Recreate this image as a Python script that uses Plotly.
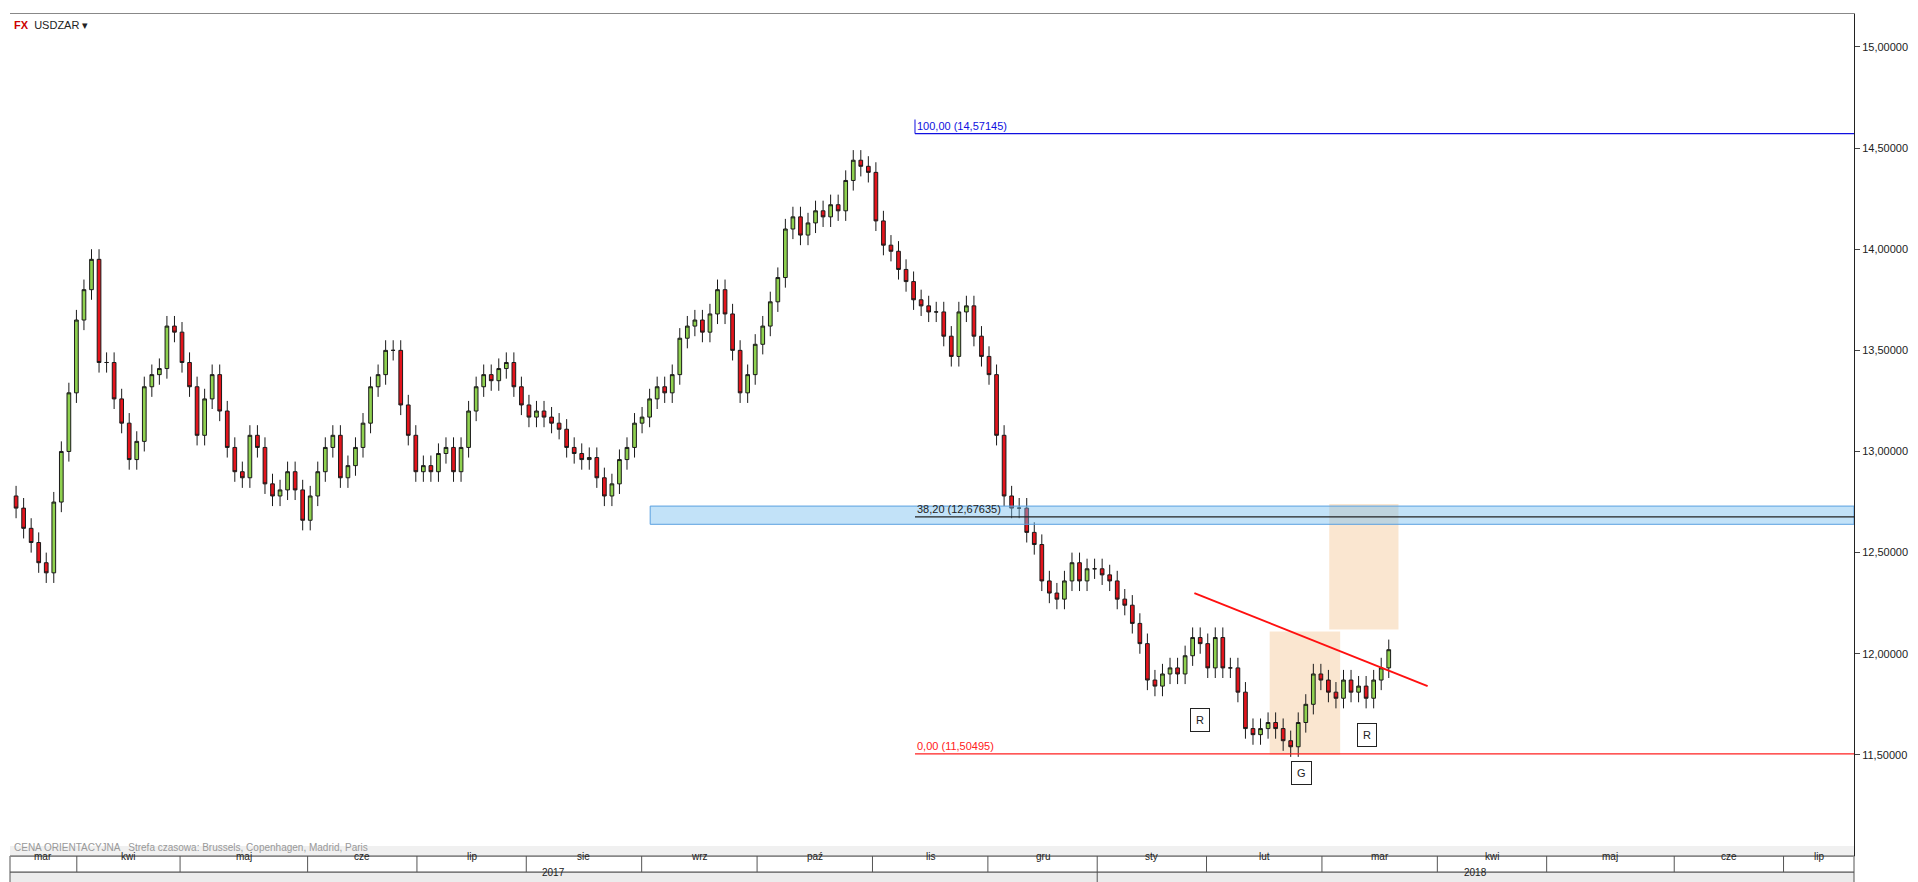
import plotly.graph_objects as go

# USDZAR daily closes, mid-March 2017 .. mid-March 2018
close = [12.72, 12.62, 12.55, 12.45, 12.40, 12.75, 13.00, 13.29,
         13.65, 13.80, 13.95, 13.44, 13.44, 13.26, 13.14, 12.96, 13.05, 13.32, 13.38, 13.41,
         13.62, 13.59, 13.44, 13.32, 13.08, 13.26, 13.38, 13.20, 13.02, 12.90,
         12.87, 13.08, 13.02, 12.84, 12.78, 12.81, 12.90, 12.81, 12.66, 12.78,
         12.90, 13.02, 13.08, 12.87, 12.93, 13.02, 13.14, 13.32, 13.38, 13.50,
         13.50, 13.23, 13.08, 12.90, 12.93, 12.90, 12.99, 13.02, 12.90, 13.02,
         13.20, 13.32, 13.38, 13.35, 13.41, 13.44, 13.32, 13.23, 13.17, 13.20,
         13.17, 13.14, 13.11, 13.02, 12.99, 12.96, 12.97, 12.87, 12.78, 12.84,
         12.96, 13.02, 13.14, 13.17, 13.26, 13.32, 13.29, 13.38, 13.56, 13.62,
         13.65, 13.59, 13.68, 13.80, 13.68, 13.50, 13.29, 13.38, 13.53, 13.62,
         13.74, 13.86, 14.10, 14.16, 14.07, 14.13, 14.19, 14.16, 14.22, 14.19,
         14.34, 14.44, 14.41, 14.38, 14.14, 14.02, 13.99, 13.90, 13.84, 13.75,
         13.72, 13.69, 13.69, 13.57, 13.47, 13.69, 13.72, 13.57, 13.47, 13.38,
         13.08, 12.78, 12.72, 12.72, 12.60, 12.54, 12.36, 12.30, 12.27, 12.36,
         12.45, 12.36, 12.42, 12.42, 12.39, 12.36, 12.27, 12.24, 12.15, 12.05,
         11.87, 11.84, 11.90, 11.93, 11.90, 11.99, 12.08, 12.05, 11.93, 12.08,
         11.93, 11.93, 11.81, 11.63, 11.60, 11.63, 11.66, 11.63, 11.57, 11.54,
         11.66, 11.75, 11.90, 11.87, 11.81, 11.78, 11.87, 11.81, 11.84, 11.78,
         11.87, 11.93, 12.02]
first_open = 12.78
wick = 0.05

months = ["mar", "kwi", "maj", "cze", "lip", "sie", "wrz", "paź", "lis",
          "gru", "sty", "lut", "mar", "kwi", "maj", "cze", "lip"]
month_px = [0, 55, 140, 245, 335, 425, 520, 615, 710, 805, 895, 985, 1080,
            1175, 1265, 1370, 1460, 1518]
year_split_px = 895

fib_top, fib_382, fib_0 = 14.57145, 12.67635, 11.50495

n = len(close)
scale = (1135 - 5) / (n - 1)


def ix(px):
    return (px - 5) / scale


opens = [first_open] + close[:-1]
high = [max(o, c) + wick for o, c in zip(opens, close)]
low = [min(o, c) - wick for o, c in zip(opens, close)]
x = list(range(n))

fig = go.Figure(go.Candlestick(
    x=x, open=opens, high=high, low=low, close=close,
    increasing=dict(fillcolor="#8fd14f", line=dict(color="#1a1a1a", width=1)),
    decreasing=dict(fillcolor="#e3141c", line=dict(color="#1a1a1a", width=1)),
    whiskerwidth=0, showlegend=False, hoverinfo="skip"))

xr = [ix(0), ix(1518)]
shapes = []
# grey strip at bottom of the plot
shapes.append(dict(type="rect", xref="paper", yref="paper", x0=0, x1=1, y0=0, y1=0.012,
                   fillcolor="#f0f0f0", line=dict(width=0), layer="below"))
# fib band + lines
shapes.append(dict(type="rect", x0=ix(527), x1=xr[1], y0=12.64, y1=12.73,
                   fillcolor="rgba(120,190,240,0.45)", line=dict(color="#5aa0e0", width=1)))
for y, c, s in [(fib_top, "#1010e0", 745), (fib_382, "#222222", 745), (fib_0, "#ff2020", 745)]:
    shapes.append(dict(type="line", x0=ix(s), x1=xr[1], y0=y, y1=y, line=dict(color=c, width=1.2)))
shapes.append(dict(type="line", x0=ix(745), x1=ix(745), y0=fib_top, y1=fib_top + 0.07,
                   line=dict(color="#1010e0", width=1)))
# orange zones
shapes.append(dict(type="rect", x0=ix(1037), x1=ix(1095), y0=11.50, y1=12.11,
                   fillcolor="rgba(245,200,150,0.45)", line=dict(width=0), layer="below"))
shapes.append(dict(type="rect", x0=ix(1086), x1=ix(1143), y0=12.12, y1=12.74,
                   fillcolor="rgba(245,200,150,0.45)", line=dict(width=0), layer="below"))
# trendline
shapes.append(dict(type="line", x0=ix(975), x1=ix(1167), y0=12.30, y1=11.84,
                   line=dict(color="#ff1010", width=2)))
# month / year rows
shapes.append(dict(type="rect", xref="paper", yref="paper", x0=0, x1=1, y0=-0.037, y1=-0.019,
                   fillcolor="#ececec", line=dict(color="#555", width=1), layer="below"))
shapes.append(dict(type="rect", xref="paper", yref="paper", x0=0, x1=1, y0=-0.019, y1=0,
                   fillcolor="white", line=dict(color="#555", width=1), layer="below"))
annotations = []
for i, m in enumerate(months):
    a, b = month_px[i], month_px[i + 1]
    if i > 0:
        shapes.append(dict(type="line", x0=ix(a), x1=ix(a), yref="paper", y0=-0.019, y1=0,
                           line=dict(color="#555", width=1)))
    annotations.append(dict(x=ix((a + b) / 2), y=-0.0095, yref="paper", text=m, showarrow=False,
                            font=dict(size=10, color="#222")))
shapes.append(dict(type="line", x0=ix(year_split_px), x1=ix(year_split_px), yref="paper",
                   y0=-0.037, y1=-0.019, line=dict(color="#555", width=1)))
annotations.append(dict(x=ix((0 + year_split_px) / 2), y=-0.028, yref="paper", text="2017",
                        showarrow=False, font=dict(size=10, color="#222")))
annotations.append(dict(x=ix((year_split_px + 1518) / 2), y=-0.028, yref="paper", text="2018",
                        showarrow=False, font=dict(size=10, color="#222")))

for y, c, t in [(fib_top, "#1010e0", "100,00 (14,57145)"), (fib_382, "#222222", "38,20 (12,67635)"),
                (fib_0, "#ff2020", "0,00 (11,50495)")]:
    annotations.append(dict(x=ix(745), y=y, text=t, showarrow=False, xanchor="left", yanchor="bottom",
                            font=dict(size=11, color=c)))
for px, y, t in [(980, 11.67, "R"), (1063, 11.41, "G"), (1117, 11.60, "R")]:
    annotations.append(dict(x=ix(px), y=y, text=t, showarrow=False, bgcolor="white",
                            bordercolor="#222", borderwidth=1, borderpad=5,
                            font=dict(size=11, color="#222")))
annotations.append(dict(x=0.001, y=0.997, xref="paper", yref="paper", xanchor="left", yanchor="top",
                        text="<b style='color:#c00'>FX</b>  USDZAR ▾",
                        showarrow=False, font=dict(size=11, color="#222")))
annotations.append(dict(x=0.001, y=0.001, xref="paper", yref="paper", xanchor="left", yanchor="bottom",
                        text="CENA ORIENTACYJNA   Strefa czasowa: Brussels, Copenhagen, Madrid, Paris",
                        showarrow=False, font=dict(size=10, color="#999")))

yt = [11.5, 12.0, 12.5, 13.0, 13.5, 14.0, 14.5, 15.0]
fig.update_layout(
    width=1918, height=882, paper_bgcolor="white", plot_bgcolor="white",
    margin=dict(l=2, r=72, t=6, b=34),
    font=dict(family="Liberation Sans"),
    shapes=shapes, annotations=annotations,
    xaxis=dict(range=xr, showticklabels=False, showgrid=False, zeroline=False,
               rangeslider=dict(visible=False), showline=True, linecolor="#888", mirror=True),
    yaxis=dict(range=[11.0, 15.163], side="right", tickvals=yt,
               ticktext=[f"{v:.5f}".replace(".", ",") for v in yt],
               ticks="outside", ticklen=5, showgrid=False, zeroline=False,
               showline=True, linecolor="#222", tickfont=dict(size=11, color="#222")),
)
fig.write_html("out.html")
